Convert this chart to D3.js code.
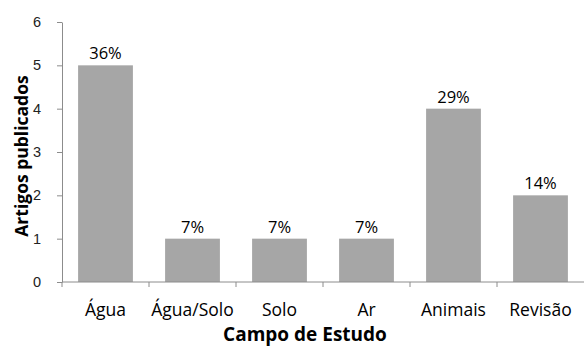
<!DOCTYPE html>
<html>
<head>
<meta charset="utf-8">
<script src="https://cdn.jsdelivr.net/npm/d3@7"></script>
<style>
  body { margin: 0; background: #fff; }
  svg { display: block; font-family: "Open Sans", Lato, sans-serif; }
</style>
</head>
<body>
<svg id="chart" width="584" height="346"></svg>
<script>
// Articles published per field of study
const categories = ["Água", "Água/Solo", "Solo", "Ar", "Animais", "Revisão"];
const articles = [5, 1, 1, 1, 4, 2];
const shares = ["36%", "7%", "7%", "7%", "29%", "14%"];
const yTicks = [0, 1, 2, 3, 4, 5, 6];

const svg = d3.select("#chart");
const margin = { top: 22, right: 0, bottom: 64, left: 62 };
const width = 584 - margin.left - margin.right;
const height = 346 - margin.top - margin.bottom;

const g = svg.append("g").attr("transform", `translate(${margin.left},${margin.top})`);

const x = d3.scaleBand().domain(categories).range([0, width]).paddingInner(0.37).paddingOuter(0.185);
const y = d3.scaleLinear().domain([0, 6]).range([height, 0]);

const axisColor = "#8c8c8c";

// Y axis
const yAxis = g.append("g")
  .call(d3.axisLeft(y).tickValues(yTicks).tickFormat(d3.format("d")).tickSize(5).tickSizeOuter(0).tickPadding(16));
yAxis.select(".domain").attr("stroke", axisColor);
yAxis.selectAll(".tick line").attr("stroke", axisColor);
yAxis.selectAll(".tick text").attr("fill", "#222").style("font-size", "14.5px");

// Bars
g.selectAll("rect.bar")
  .data(categories)
  .join("rect")
  .attr("class", "bar")
  .attr("x", d => x(d))
  .attr("y", (d, i) => y(articles[i]))
  .attr("width", x.bandwidth())
  .attr("height", (d, i) => y(0) - y(articles[i]))
  .attr("fill", "#a6a6a6");

// Value labels
g.selectAll("text.val")
  .data(categories)
  .join("text")
  .attr("class", "val")
  .attr("x", d => x(d) + x.bandwidth() / 2)
  .attr("y", (d, i) => y(articles[i]) - 6)
  .attr("text-anchor", "middle")
  .style("font-size", "16.5px")
  .attr("fill", "#000")
  .text((d, i) => shares[i]);

// X axis with ticks between categories
const xAxisG = g.append("g").attr("transform", `translate(0,${height})`);
xAxisG.append("line").attr("x1", 0).attr("x2", width).attr("stroke", axisColor);
const step = x.step();
const boundaries = d3.range(0, categories.length).map(i => i * step);
xAxisG.selectAll("line.tk")
  .data(boundaries)
  .join("line")
  .attr("class", "tk")
  .attr("x1", d => d).attr("x2", d => d)
  .attr("y1", 0).attr("y2", 5)
  .attr("stroke", axisColor);
xAxisG.selectAll("text.cat")
  .data(categories)
  .join("text")
  .attr("class", "cat")
  .attr("x", d => x(d) + x.bandwidth() / 2)
  .attr("y", 34)
  .attr("text-anchor", "middle")
  .style("font-size", "17.5px")
  .attr("fill", "#000")
  .text(d => d);

// Axis titles
svg.append("text")
  .attr("x", 305)
  .attr("y", 341)
  .attr("text-anchor", "middle")
  .style("font-size", "19px")
  .style("font-weight", "bold")
  .text("Campo de Estudo");

svg.append("text")
  .attr("transform", `translate(28,156) rotate(-90)`)
  .attr("text-anchor", "middle")
  .style("font-size", "17.5px")
  .style("font-weight", "bold")
  .text("Artigos publicados");
</script>
</body>
</html>
